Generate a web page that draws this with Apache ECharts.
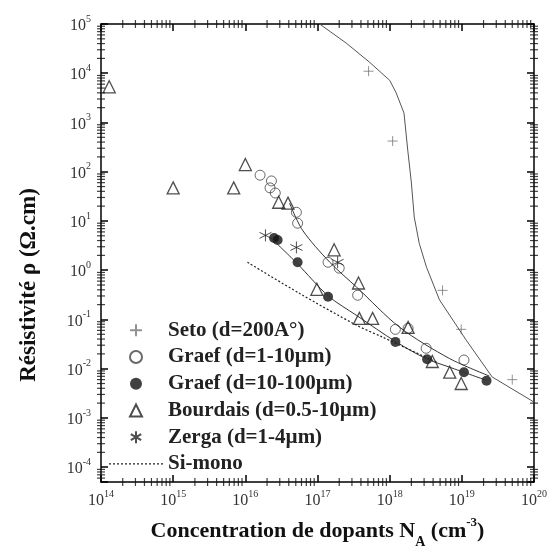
<!DOCTYPE html>
<html>
<head>
<meta charset="utf-8">
<script src="https://cdn.jsdelivr.net/npm/echarts@6/dist/echarts.min.js"></script>
<style>
  html, body { margin: 0; padding: 0; background: #fff; }
  #main { width: 558px; height: 557px; }
</style>
</head>
<body>
<div id="main"></div>
<script>
// values: [N_A (cm-3), resistivity (ohm.cm)]
const setoPoints = [[5.1e17, 1.1e4], [1.1e18, 420], [5.4e18, 0.39], [9.8e18, 0.063], [5e19, 0.006]]
const setoCurve = [[1.07e17, 1e5], [2.5e17, 4.1e4], [5.2e17, 1.7e4], [1.0e18, 7.2e3], [1.23e18, 4.0e3],
  [1.58e18, 1.55e3], [1.78e18, 275], [2.0e18, 59], [2.19e18, 12], [2.57e18, 3.5], [3.24e18, 1.15],
  [4.9e18, 0.25], [1.15e19, 0.038], [2.63e19, 6.8e-3], [1e20, 2.1e-3]]
const graefThin = [[1.6e16, 85], [2.3e16, 65], [2.2e16, 47], [2.6e16, 37], [5.1e16, 15], [5.3e16, 9],
  [1.4e17, 1.45], [2.0e17, 1.1], [3.6e17, 0.31], [1.2e18, 0.063], [1.8e18, 0.066], [3.2e18, 0.026], [1.07e19, 0.015]]
const graefThinFit = [[4.1e16, 23], [6.2e16, 6.5], [1.48e17, 1.45], [3.5e17, 0.45], [1.38e18, 0.069],
  [6.8e18, 0.016], [2.4e19, 7.1e-3]]
const graefThick = [[2.5e16, 4.5], [2.8e16, 4.1], [5.3e16, 1.45], [1.4e17, 0.29], [1.2e18, 0.035],
  [3.3e18, 0.0155], [1.07e19, 0.0085], [2.2e19, 0.0057]]
const graefThickFit = [[2.2e16, 4.7], [5.2e16, 1.38], [1.41e17, 0.30], [3.5e17, 0.12], [1.23e18, 0.035],
  [3.2e18, 0.016], [6.8e18, 0.0107], [2.2e19, 5.8e-3]]
const bourdais = [[1.3e14, 5.3e3], [1e15, 47], [6.9e15, 47], [1e16, 140], [2.9e16, 24], [3.9e16, 23],
  [1.7e17, 2.6], [9.8e16, 0.41], [3.7e17, 0.55], [3.8e17, 0.105], [5.8e17, 0.105], [1.8e18, 0.069],
  [3.9e18, 0.014], [6.8e18, 0.0085], [9.8e18, 0.005]]
const zerga = [[1.9e16, 5.1], [5.1e16, 2.9], [1.9e17, 1.45]]
const siMono = [[1.07e16, 1.45], [5.6e16, 0.34], [3.5e17, 0.076], [7.9e17, 0.044], [4.5e18, 0.0135]]

const legendNames = ['Seto (d=200A°)', 'Graef (d=1-10µm)', 'Graef (d=10-100µm)',
  'Bourdais (d=0.5-10µm)', 'Zerga (d=1-4µm)', 'Si-mono']

const xMin = 1e14, xMax = 1e20, yMin = 5e-5, yMax = 1e5
const serif = 'Liberation Serif'

// minor ticks 2..9 of each decade, drawn as small marks on the frame
const xMinorBottom = [], xMinorTop = []
for (let e = 14; e < 20; e++) for (let m = 2; m <= 9; m++) {
  xMinorBottom.push([m * Math.pow(10, e), yMin])
  xMinorTop.push([m * Math.pow(10, e), yMax])
}
const yMinorLeft = [], yMinorRight = []
for (let e = -5; e < 5; e++) for (let m = 2; m <= 9; m++) {
  const v = m * Math.pow(10, e)
  if (v > yMin && v < yMax) {
    yMinorLeft.push([xMin, v])
    yMinorRight.push([xMax, v])
  }
}
const tickSeries = (data, size) => ({
  type: 'scatter', data: data, symbol: 'rect', symbolSize: size,
  itemStyle: { color: '#111' }, clip: false, z: 5
})

const powLabel = (v) => {
  const e = Math.log10(v)
  const r = Math.round(e)
  if (Math.abs(e - r) > 1e-6) return ''
  return '{b|10}{s|' + r + '}'
}
const labelRich = () => ({
  b: { fontFamily: serif, fontSize: 16, color: '#333', lineHeight: 20, verticalAlign: 'bottom' },
  s: { fontFamily: serif, fontSize: 10, color: '#333', lineHeight: 12, verticalAlign: 'top' }
})

const frameLine = () => ({ show: true, onZero: false, lineStyle: { color: '#000', width: 1.5 } })
const majorTick = () => ({ show: true, inside: true, length: 7, lineStyle: { color: '#000', width: 1.5 } })

const plusPath = 'path://M5,0L5,10M0,5L10,5'
const starPath = 'path://M5,0L5,10M0.67,2.5L9.33,7.5M0.67,7.5L9.33,2.5'
const triangleIcon = 'path://M0,6M54,6M21,12L27,0L33,12Z'
const hollow = 'rgba(255,255,255,0)'
let dashPath = 'path://'
for (let i = 0; i < 54; i += 4) dashPath += 'M' + i + ',0h2v1.3h-2z'

const options = {
  animation: false,
  backgroundColor: '#fff',
  grid: { left: 101, right: 24, top: 24, bottom: 75 },
  legend: {
    data: [legendNames[0], legendNames[1], legendNames[2],
      { name: legendNames[3], icon: triangleIcon }, legendNames[4],
      { name: legendNames[5], icon: dashPath }],
    orient: 'vertical',
    left: 103,
    top: 312,
    itemWidth: 54,
    itemHeight: 12,
    itemGap: 0,
    selectedMode: false,
    textStyle: { fontFamily: serif, fontSize: 21, fontWeight: 'bold', color: '#222', lineHeight: 26.7 }
  },
  xAxis: [
    {
      type: 'log', min: xMin, max: xMax, splitNumber: 6,
      name: 'Concentration de dopants N{sub|A} (cm{sup|-3})',
      nameLocation: 'middle', nameGap: 38,
      nameTextStyle: {
        fontFamily: serif, fontSize: 22, fontWeight: 'bold', color: '#111',
        rich: {
          sub: { fontFamily: serif, fontSize: 14, fontWeight: 'bold', color: '#111', verticalAlign: 'bottom', lineHeight: 14, padding: [0, 0, -7, 0] },
          sup: { fontFamily: serif, fontSize: 13, fontWeight: 'bold', color: '#111', verticalAlign: 'top', lineHeight: 12, padding: [-4, 0, 0, 0] }
        }
      },
      axisLine: frameLine(), axisTick: majorTick(), splitLine: { show: false },
      axisLabel: { formatter: powLabel, rich: labelRich(), margin: 7 }
    },
    {
      type: 'log', min: xMin, max: xMax, splitNumber: 6, position: 'top',
      axisLine: frameLine(), axisTick: majorTick(), splitLine: { show: false }, axisLabel: { show: false }
    }
  ],
  yAxis: [
    {
      type: 'log', min: yMin, max: yMax, splitNumber: 10,
      name: 'Résistivité ρ (Ω.cm)',
      nameLocation: 'middle', nameGap: 60, nameRotate: 90,
      nameTextStyle: { fontFamily: serif, fontSize: 23, fontWeight: 'bold', color: '#111', padding: [0, 64, 0, 0] },
      axisLine: frameLine(), axisTick: majorTick(), splitLine: { show: false },
      axisLabel: { formatter: powLabel, rich: labelRich(), margin: 10 }
    },
    {
      type: 'log', min: yMin, max: yMax, splitNumber: 10, position: 'right',
      axisLine: frameLine(), axisTick: majorTick(), splitLine: { show: false }, axisLabel: { show: false }
    }
  ],
  series: [
    tickSeries(xMinorBottom, [1.2, 8]),
    tickSeries(xMinorTop, [1.2, 8]),
    tickSeries(yMinorLeft, [8, 1.2]),
    tickSeries(yMinorRight, [8, 1.2]),
    {
      type: 'line', name: 'setoCurve', data: setoCurve, showSymbol: false, symbol: 'none',
      lineStyle: { color: '#555', width: 1 }, silent: true
    },
    {
      type: 'line', name: 'graefThinFit', data: graefThinFit, showSymbol: false, symbol: 'none', smooth: 0.3,
      lineStyle: { color: '#333', width: 1 }, silent: true
    },
    {
      type: 'line', name: 'graefThickFit', data: graefThickFit, showSymbol: false, symbol: 'none', smooth: 0.3,
      lineStyle: { color: '#333', width: 1 }, silent: true
    },
    {
      type: 'line', name: legendNames[5], data: siMono, showSymbol: false, symbol: 'none', smooth: 0.3,
      lineStyle: { color: '#222', width: 1.2, type: [2, 2] }, itemStyle: { color: '#222' }
    },
    {
      type: 'scatter', name: legendNames[0], data: setoPoints, symbol: plusPath, symbolSize: 10,
      itemStyle: { color: hollow, borderColor: '#777', borderWidth: 1 }
    },
    {
      type: 'scatter', name: legendNames[1], data: graefThin, symbol: 'circle', symbolSize: 10,
      itemStyle: { color: hollow, borderColor: '#444', borderWidth: 1 }
    },
    {
      type: 'scatter', name: legendNames[2], data: graefThick, symbol: 'circle', symbolSize: 10,
      itemStyle: { color: '#111' }
    },
    {
      type: 'scatter', name: legendNames[3], data: bourdais, symbol: 'triangle', symbolSize: 12,
      itemStyle: { color: hollow, borderColor: '#222', borderWidth: 1.3 }
    },
    {
      type: 'scatter', name: legendNames[4], data: zerga, symbol: starPath, symbolSize: 12,
      itemStyle: { color: hollow, borderColor: '#222', borderWidth: 1 }
    }
  ]
}

const myChart = echarts.init(document.getElementById('main'))
myChart.setOption(options)
</script>
</body>
</html>
